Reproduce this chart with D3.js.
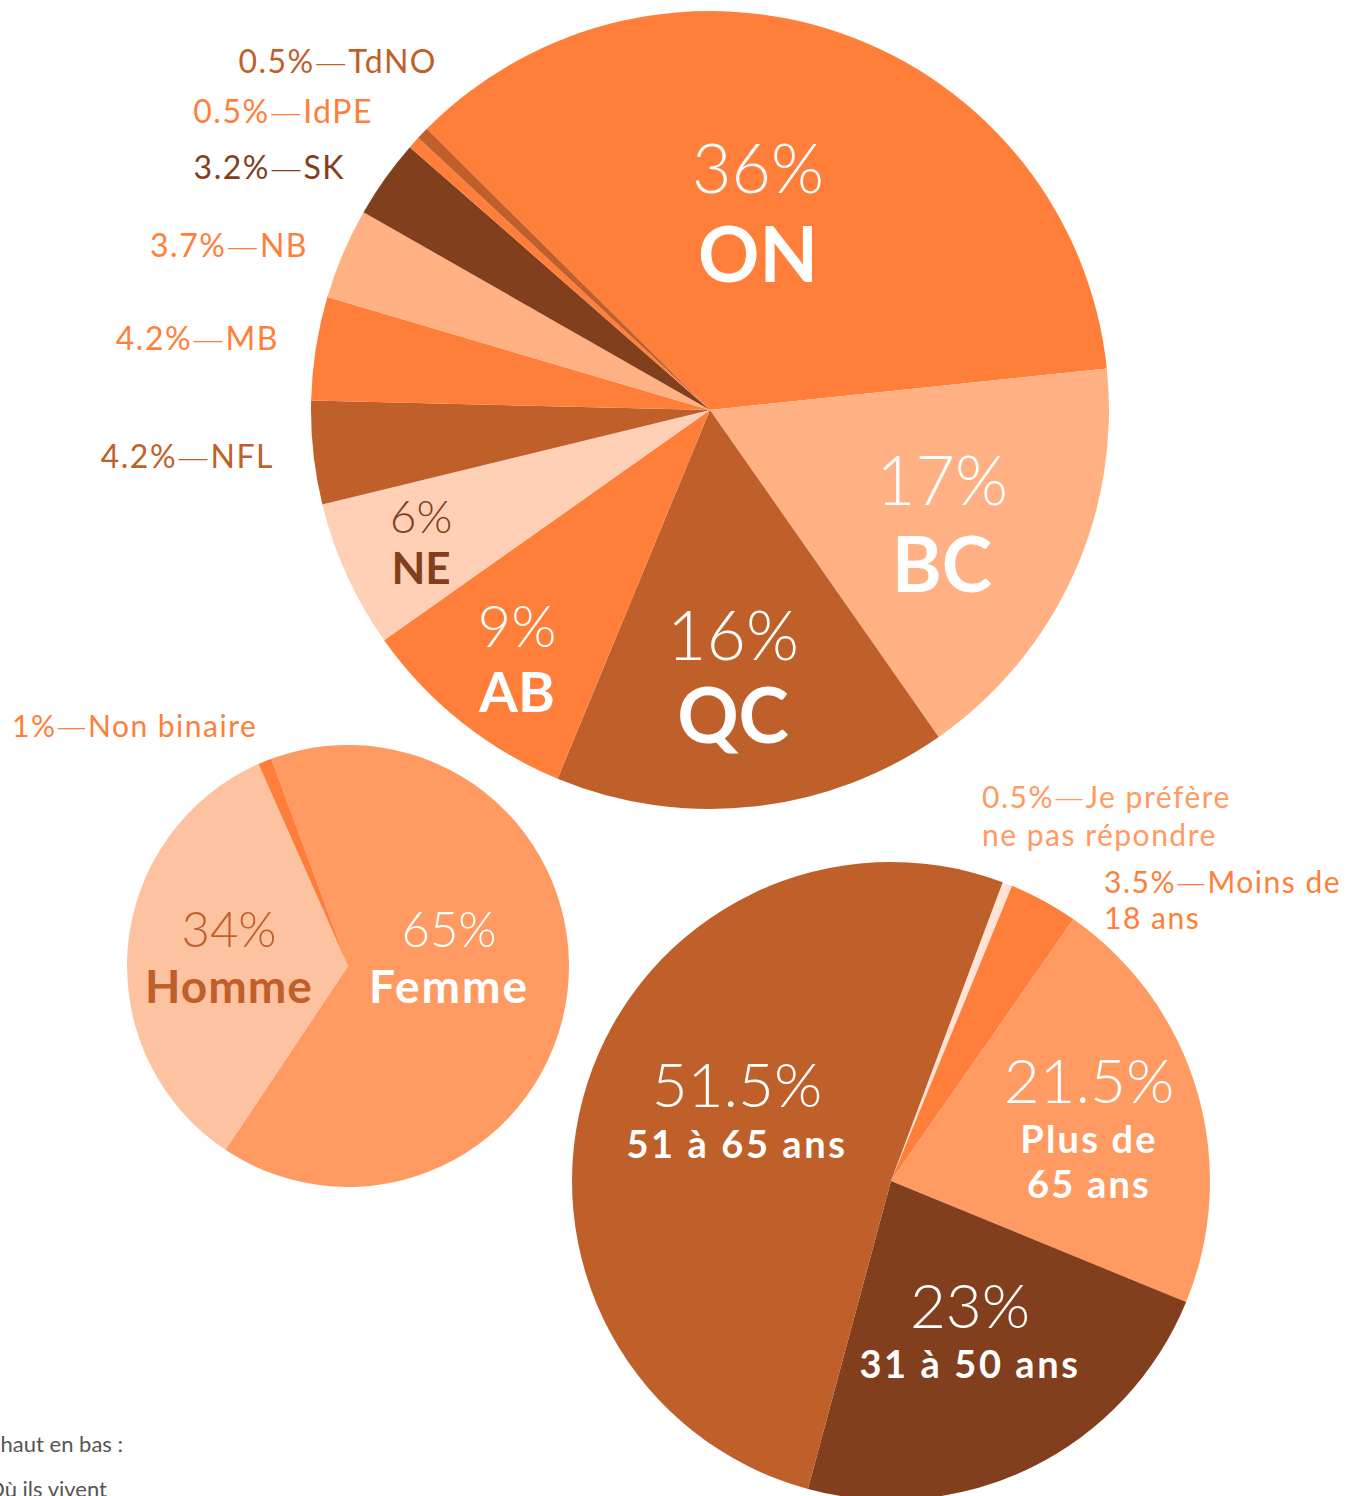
<!DOCTYPE html>
<html>
<head>
<meta charset="utf-8">
<script src="https://cdn.jsdelivr.net/npm/d3@7"></script>
<style>
  body { margin: 0; background: #fff; }
  svg { display: block; font-family: Lato, 'Open Sans', sans-serif; }
</style>
</head>
<body>
<div id="chart"></div>
<script>
// where they live
const provinces = ['ON', 'BC', 'QC', 'AB', 'NE', 'NFL', 'MB', 'NB', 'SK', 'IdPE', 'TdNO'];
const provinceValues = [36, 17, 16, 9, 6, 4.2, 4.2, 3.7, 3.2, 0.5, 0.5];

// gender
const genders = ['Femme', 'Homme', 'Non binaire'];
const genderValues = [65, 34, 1];

// age
const ages = ['Je préfère ne pas répondre', 'Moins de 18 ans', 'Plus de 65 ans', '31 à 50 ans', '51 à 65 ans'];
const ageValues = [0.5, 3.5, 21.5, 23, 51.5];

const c1 = '#FF7F3A', c2 = '#BF5F2A', c3 = '#823F1D', c4 = '#FFB183', c5 = '#FFD0B5', c6 = '#FF9A62', c7 = '#FDC2A0';

const width = 1346, height = 1496;
const deg = Math.PI / 180;

const svg = d3.select('#chart')
    .append('svg')
    .attr('width', width)
    .attr('height', height);

function drawPie(cfg) {
    const data = cfg.names.map((n, i) => ({ name: n, value: cfg.values[i] }));
    const pie = d3.pie()
        .sort(null)
        .value(d => d.value)
        .startAngle(cfg.start * deg)
        .endAngle(cfg.start * deg + 2 * Math.PI);
    const arc = d3.arc().innerRadius(0).outerRadius(cfg.r);

    const g = svg.append('g')
        .attr('transform', `translate(${cfg.cx},${cfg.cy})`);

    g.selectAll('path')
        .data(pie(data))
        .enter().append('path')
        .attr('d', arc)
        .attr('fill', (d, i) => cfg.colors[i]);

    // labels inside the slices
    cfg.inside.forEach(lb => {
        const i = cfg.names.indexOf(lb.name);
        const t = g.append('text')
            .attr('text-anchor', 'middle')
            .attr('fill', lb.color);
        t.append('tspan')
            .attr('x', lb.x)
            .attr('y', lb.y)
            .attr('font-size', lb.pct)
            .attr('font-weight', 300)
            .text(cfg.values[i] + '%');
        (lb.lines || [cfg.names[i]]).forEach((line, k) => {
            t.append('tspan')
                .attr('x', lb.x)
                .attr('y', lb.y + lb.gap + k * (lb.lh || 0))
                .attr('font-size', lb.size)
                .attr('font-weight', 700)
                .attr('letter-spacing', lb.ls || 0)
                .text(line);
        });
    });

    // labels outside the pie: "x%—name", the dash set in a wider face
    cfg.outside.forEach(lb => {
        const i = cfg.names.indexOf(lb.name);
        const lines = lb.lines || [cfg.names[i]];
        const t = svg.append('text')
            .attr('text-anchor', lb.anchor)
            .attr('fill', lb.color)
            .attr('font-size', lb.size)
            .attr('letter-spacing', 1.5)
            .attr('font-weight', 400);
        t.append('tspan')
            .attr('x', lb.x)
            .attr('y', lb.y)
            .text(cfg.values[i] + '%');
        t.append('tspan')
            .attr('font-family', "'DejaVu Sans'")
            .attr('font-weight', 300)
            .text('\u2014');
        t.append('tspan').text(lines[0]);
        lines.slice(1).forEach((line, k) => {
            t.append('tspan')
                .attr('x', lb.x)
                .attr('y', lb.y + (k + 1) * lb.lh)
                .text(line);
        });
    });
}

drawPie({
    names: provinces, values: provinceValues,
    cx: 710, cy: 410, r: 399, start: -45.2,
    colors: [c1, c4, c2, c1, c5, c2, c1, c4, c3, c1, c2],
    inside: [
        { name: 'ON', x: 48, y: -217, gap: 89, pct: 68, size: 76, color: '#fff' },
        { name: 'BC', x: 232, y: 95, gap: 87, pct: 68, size: 76, color: '#fff' },
        { name: 'QC', x: 23, y: 250, gap: 83, pct: 68, size: 76, color: '#fff' },
        { name: 'AB', x: -193, y: 237, gap: 65, pct: 58, size: 56, color: '#fff' },
        { name: 'NE', x: -289, y: 123, gap: 51, pct: 46, size: 44, color: c3 }
    ],
    outside: [
        { name: 'TdNO', x: 437, y: 73, size: 32, anchor: 'end', color: c2 },
        { name: 'IdPE', x: 373, y: 123, size: 32, anchor: 'end', color: c1 },
        { name: 'SK', x: 345, y: 179, size: 32, anchor: 'end', color: c3 },
        { name: 'NB', x: 308, y: 257, size: 32, anchor: 'end', color: c1 },
        { name: 'MB', x: 279, y: 350, size: 32, anchor: 'end', color: c1 },
        { name: 'NFL', x: 274, y: 468, size: 32, anchor: 'end', color: c2 }
    ]
});

drawPie({
    names: genders, values: genderValues,
    cx: 348, cy: 966, r: 221, start: -20.3,
    colors: [c6, c7, c1],
    inside: [
        { name: 'Homme', x: -119, y: -19, gap: 56, pct: 49, size: 46, ls: 1, color: c2 },
        { name: 'Femme', x: 101, y: -19, gap: 56, pct: 49, size: 46, ls: 2, color: '#fff' }
    ],
    outside: [
        { name: 'Non binaire', x: 12, y: 737, size: 30, anchor: 'start', color: c1 }
    ]
});

drawPie({
    names: ages, values: ageValues,
    cx: 891, cy: 1181, r: 319, start: 20.5,
    colors: ['#FFE3D4', c1, c6, c3, c2],
    inside: [
        { name: '51 à 65 ans', x: -154, y: -74, gap: 51, pct: 62, size: 38, ls: 2.6, color: '#fff' },
        { name: 'Plus de 65 ans', lines: ['Plus de', '65 ans'], x: 198, y: -78, gap: 50, lh: 45, pct: 62, size: 38, ls: 2.2, color: '#fff' },
        { name: '31 à 50 ans', x: 79, y: 147, gap: 50, pct: 62, size: 38, ls: 2.6, color: '#fff' }
    ],
    outside: [
        { name: 'Je préfère ne pas répondre', lines: ['Je préfère', 'ne pas répondre'], x: 982, y: 808, lh: 38, size: 30, anchor: 'start', color: c6 },
        { name: 'Moins de 18 ans', lines: ['Moins de', '18 ans'], x: 1104, y: 893, lh: 36, size: 30, anchor: 'start', color: c1 }
    ]
});

// note cut off at the bottom left
svg.append('text')
    .attr('x', 123).attr('y', 1452)
    .attr('text-anchor', 'end')
    .attr('font-size', 22)
    .attr('fill', '#555')
    .text('De haut en bas :');
svg.append('text')
    .attr('x', 107).attr('y', 1497)
    .attr('text-anchor', 'end')
    .attr('font-size', 22)
    .attr('fill', '#555')
    .text('Où ils vivent');
</script>
</body>
</html>
